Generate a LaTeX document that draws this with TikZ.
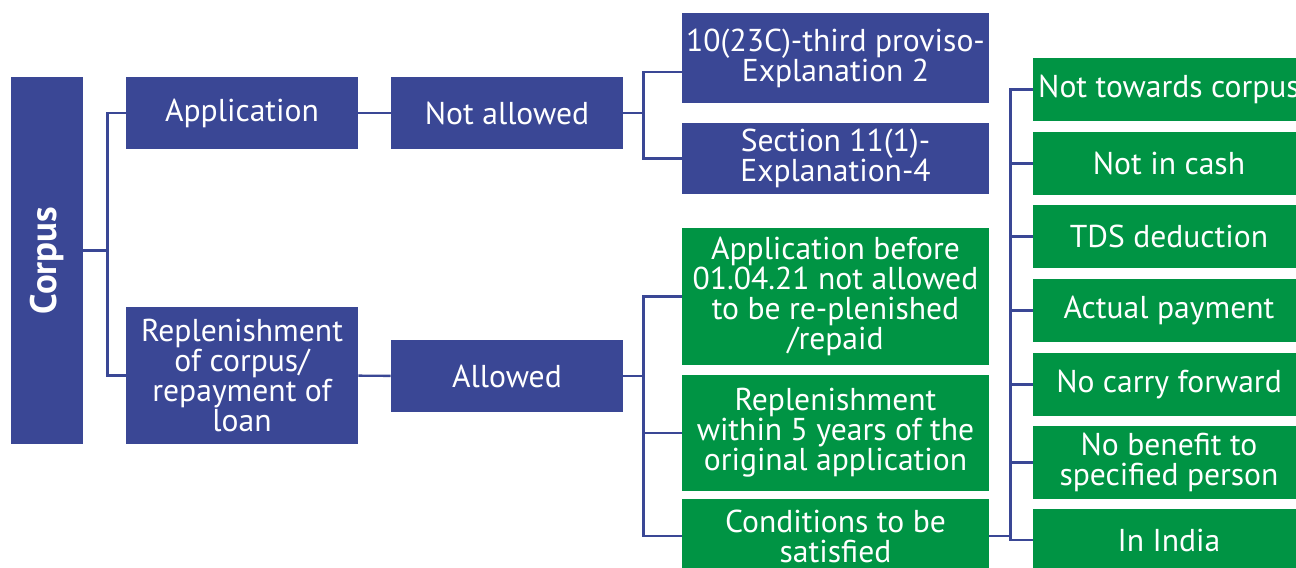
\documentclass[tikz,border=0pt]{standalone}
\usepackage{fontspec}
\setmainfont{PT Sans}
\usetikzlibrary{calc}

\definecolor{boxblue}{RGB}{58,71,149}
\definecolor{boxgreen}{RGB}{0,148,68}
\def\pxu{0.02cm}
\tikzset{
  box/.style={rectangle, inner sep=0pt, text=white, align=center,
    font=\fontsize{18}{17}\selectfont},
  bluebox/.style={box, fill=boxblue},
  greenbox/.style={box, fill=boxgreen},
  link/.style={draw=boxblue, line width=1.4pt}
}

\begin{document}
\begin{tikzpicture}[x=0.02cm, y=-0.02cm]

%page
\clip (0,0) rectangle (1296,568);
\fill[white] (0,0) rectangle (1296,568);

%box widths
\def\wl{232}
\def\wm{307}
\def\wr{272}

%left column
\node[bluebox, minimum width=72*\pxu, minimum height=367*\pxu,
  font=\fontsize{21}{21}\selectfont\bfseries] (corpus) at (47,260.5) {\rotatebox{90}{Corpus}};
\node[bluebox, minimum width=\wl*\pxu, minimum height=72*\pxu] (app) at (242,113) {Application};
\node[bluebox, minimum width=\wl*\pxu, minimum height=137*\pxu] (repl) at (242,375.5)
  {Replenishment\\of corpus/\\repayment of\\loan};

%second column
\node[bluebox, minimum width=\wl*\pxu, minimum height=72*\pxu] (na) at (507,113) {Not allowed};
\node[bluebox, minimum width=\wl*\pxu, minimum height=72*\pxu] (al) at (507,376) {Allowed};

%third column
\node[bluebox, minimum width=\wm*\pxu, minimum height=90*\pxu] (s10) at (835.5,58)
  {10(23C)-third proviso-\\Explanation 2};
\node[bluebox, minimum width=\wm*\pxu, minimum height=71*\pxu] (s11) at (835.5,158.5)
  {Section 11(1)-\\Explanation-4};
\node[greenbox, minimum width=\wm*\pxu, minimum height=137*\pxu] (g1) at (835.5,296.5)
  {Application before\\01.04.21 not allowed\\to be re-plenished\\/repaid};
\node[greenbox, minimum width=\wm*\pxu, minimum height=116*\pxu] (g2) at (835.5,433)
  {Replenishment\\within 5 years of the\\original application};
\node[greenbox, minimum width=\wm*\pxu, minimum height=74*\pxu] (g3) at (835.5,536)
  {Conditions to be\\satisfied};

%right column
\foreach \name/\y/\h/\txt in {r1/89.5/63/Not towards corpus,
    r2/163.5/63/Not in cash,
    r3/236.5/63/TDS deduction,
    r4/310.5/63/Actual payment,
    r5/384.5/63/No carry forward,
    r6/462.5/73/{No benefit to\\specified person},
    r7/540/62/In India}{
  \node[greenbox, minimum width=\wr*\pxu, minimum height=\h*\pxu] (\name) at (1169,\y) {\txt};
}

%connectors
\draw[link] ([yshift=0.2cm]corpus.east) -- ++(24,0) coordinate (cj) |- (app.west);
\draw[link] (cj) |- (repl.west);
\draw[link] (app) -- (na);
\draw[link] (repl) -- (al);
\draw[link] (na.east) -- ++(20,0) coordinate (nj) |- ([yshift=-0.28cm]s10.west);
\draw[link] (nj) |- (s11.west);
\draw[link] (al.east) -- ++(20,0) coordinate (aj);
\foreach \k in {g1,g2,g3}
  \draw[link] (aj) |- (\k.west);
\draw[link] (g3.east) -- ++(21,0) coordinate (gj);
\foreach \k in {r1,r2,r3,r4,r5,r6,r7}
  \draw[link] (gj) |- (\k.west);

\end{tikzpicture}
\end{document}
